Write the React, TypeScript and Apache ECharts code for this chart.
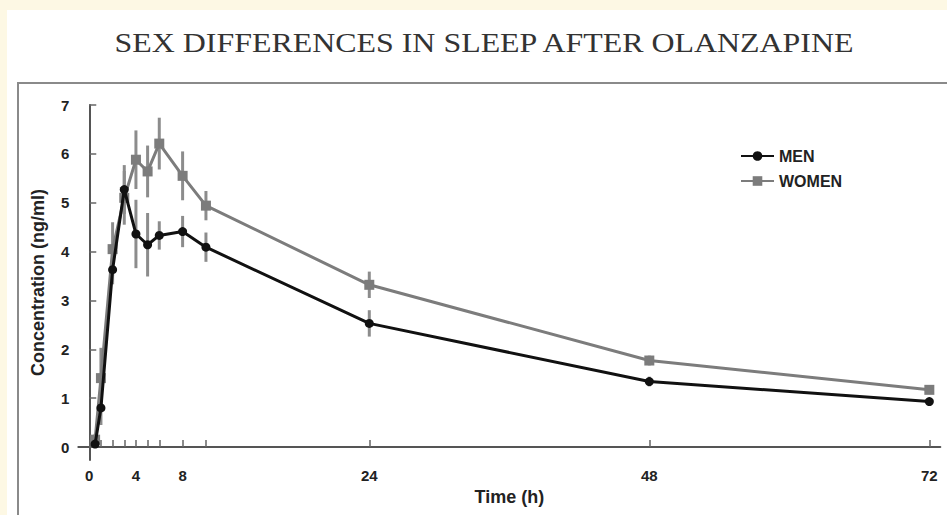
import React, { useEffect, useRef } from "react";
import * as echarts from "echarts";

const titleText = "SEX DIFFERENCES IN SLEEP AFTER OLANZAPINE";
const times = [0.5, 1, 2, 3, 4, 5, 6, 8, 10, 24, 48, 72];
const men = [0.06, 0.8, 3.63, 5.27, 4.36, 4.14, 4.33, 4.41, 4.09, 2.53, 1.34, 0.93];
const menSem = [0.08, 0.35, 0.3, 0.5, 0.7, 0.65, 0.29, 0.32, 0.3, 0.27, 0.1, 0.07];
const women = [0.15, 1.41, 4.05, 5.1, 5.88, 5.64, 6.21, 5.55, 4.94, 3.32, 1.77, 1.17];
const womenSem = [0.12, 0.62, 0.55, 0.55, 0.6, 0.53, 0.53, 0.5, 0.3, 0.27, 0.1, 0.08];
const xTicks = [0, 0.5, 1, 2, 3, 4, 5, 6, 8, 10, 24, 48, 72];
const xLabels = [0, 4, 8, 24, 48, 72];
const yTicks = [0, 1, 2, 3, 4, 5, 6, 7];
const seriesNames = ["MEN", "WOMEN"];

const MEN_COLOR = "#111111";
const WOMEN_COLOR = "#7c7c7c";
const BAR_COLOR = "#8c8c8c";

function errorSeries(vals: number[], sem: number[], z: number) {
  return {
    type: "custom",
    silent: true,
    z,
    data: times.map((t, i) => [t, vals[i], sem[i]]),
    encode: { x: 0, y: 1 },
    renderItem: (params: any, api: any) => {
      const x = api.value(0);
      const y = api.value(1);
      const e = api.value(2);
      const p1 = api.coord([x, y - e]);
      const p2 = api.coord([x, y + e]);
      return {
        type: "line",
        shape: { x1: p1[0], y1: p1[1], x2: p2[0], y2: p2[1] },
        style: { stroke: BAR_COLOR, lineWidth: 3 },
      };
    },
  };
}

export default function App() {
  const ref = useRef<HTMLDivElement>(null);
  useEffect(() => {
    if (!ref.current) return;
    const chart = echarts.init(ref.current, null, { renderer: "svg" });
    const sans = "Liberation Sans";
    chart.setOption({
      animation: false,
      backgroundColor: "#fdf8e4",
      graphic: [
        { type: "rect", z: -10, shape: { x: 7, y: 10, width: 960, height: 520 }, style: { fill: "#ffffff" } },
        { type: "rect", z: -9, shape: { x: 18, y: 83, width: 960, height: 500 }, style: { fill: "none", stroke: "#8a8a8a", lineWidth: 2 } },
        {
          type: "text",
          x: 484,
          y: 42,
          scaleX: 1.14,
          style: {
            text: titleText,
            fontFamily: "Liberation Serif",
            fontSize: 28,
            fill: "#333333",
            align: "center",
            verticalAlign: "middle",
          },
        },
      ],
      legend: {
        data: seriesNames,
        orient: "vertical",
        left: 735,
        top: 143,
        itemWidth: 33,
        itemHeight: 12,
        itemGap: 9,
        textStyle: { fontFamily: sans, fontWeight: "bold", fontSize: 16, color: "#222" },
      },
      grid: { left: 78.3, right: 6.7, top: 105, bottom: 55, containLabel: false },
      xAxis: {
        type: "value",
        min: -0.94,
        max: 72.94,
        name: "Time (h)",
        nameLocation: "middle",
        nameGap: 28,
        nameTextStyle: { fontFamily: sans, fontWeight: "bold", fontSize: 18, color: "#222" },
        axisLine: { show: true, lineStyle: { color: "#555", width: 2 } },
        axisTick: { show: true, inside: true, length: 7, customValues: xTicks, lineStyle: { color: "#666", width: 1.5 } },
        axisLabel: { customValues: xLabels, fontFamily: sans, fontWeight: "bold", fontSize: 15, color: "#222", margin: 8 },
        splitLine: { show: false },
      },
      yAxis: {
        type: "value",
        min: -0.266,
        max: 7,
        name: "Concentration (ng/ml)",
        nameLocation: "middle",
        nameGap: 31,
        nameTextStyle: { fontFamily: sans, fontWeight: "bold", fontSize: 18, color: "#222" },
        axisLine: { show: true, lineStyle: { color: "#555", width: 2 } },
        axisTick: { show: true, inside: true, length: 7, customValues: yTicks, lineStyle: { color: "#666", width: 1.5 } },
        axisLabel: { customValues: yTicks, fontFamily: sans, fontWeight: "bold", fontSize: 15, color: "#222", margin: 9 },
        splitLine: { show: false },
      },
      series: [
        errorSeries(women, womenSem, 1),
        errorSeries(men, menSem, 1),
        {
          name: "WOMEN",
          type: "line",
          z: 2,
          data: times.map((t, i) => [t, women[i]]),
          symbol: "rect",
          symbolSize: 10,
          itemStyle: { color: WOMEN_COLOR },
          lineStyle: { color: WOMEN_COLOR, width: 3 },
        },
        {
          name: "MEN",
          type: "line",
          z: 3,
          data: times.map((t, i) => [t, men[i]]),
          symbol: "circle",
          symbolSize: 9,
          itemStyle: { color: MEN_COLOR },
          lineStyle: { color: MEN_COLOR, width: 3 },
        },
      ],
    });
    return () => chart.dispose();
  }, []);
  return (
    <div
      ref={ref}
      style={{ position: "fixed", left: 0, top: 0, width: 947, height: 515 }}
    />
  );
}
